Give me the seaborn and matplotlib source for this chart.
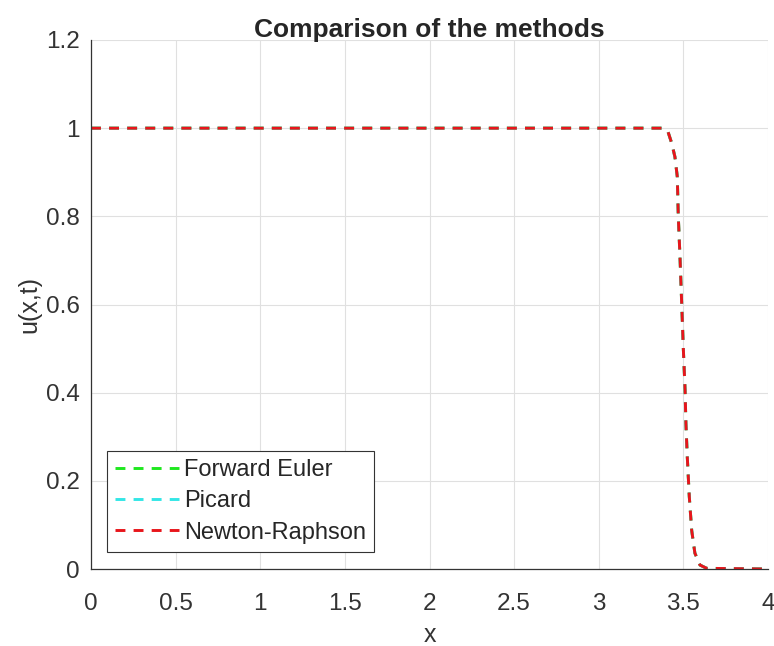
import pandas as pd
import seaborn as sns
import matplotlib
matplotlib.use('Agg')
import matplotlib.pyplot as plt

# values (front of the solution at the final time)
x_vals = [0.0, 3.38, 3.409, 3.431, 3.45, 3.464, 3.47, 3.48, 3.49, 3.50, 3.51,
          3.515, 3.523, 3.535, 3.549, 3.568, 3.598, 3.638, 4.0]
u_vals = [1.0, 1.0, 0.992, 0.966, 0.935, 0.89, 0.80, 0.708, 0.603, 0.497, 0.406,
          0.33, 0.255, 0.164, 0.088, 0.036, 0.009, 0.0015, 0.0]
methods = ['Forward Euler', 'Picard', 'Newton-Raphson']
colors = ['#1fe81f', '#33e6e6', '#e8151b']
xticks = [0, 0.5, 1, 1.5, 2, 2.5, 3, 3.5, 4]
xticklabels = ['0', '0.5', '1', '1.5', '2', '2.5', '3', '3.5', '4']
yticks = [0, 0.2, 0.4, 0.6, 0.8, 1, 1.2]
yticklabels = ['0', '0.2', '0.4', '0.6', '0.8', '1', '1.2']

sns.set_style('white')
plt.rcParams['font.family'] = ['Liberation Sans', 'DejaVu Sans']

fig = plt.figure(figsize=(7.74, 6.46), dpi=100)
ax = fig.add_axes([91 / 774, 1 - 569 / 646, 677 / 774, 529 / 646])

df = pd.DataFrame({'x': x_vals, 'u': u_vals})
for m, c in zip(methods, colors):
    sns.lineplot(data=df, x='x', y='u', ax=ax, color=c, linewidth=2.1, label=m)
for line in ax.get_lines():
    line.set_dashes([3.4, 2.8])

ax.set_xlim(0, 4)
ax.set_ylim(0, 1.2)
ax.set_xticks(xticks)
ax.set_xticklabels(xticklabels)
ax.set_yticks(yticks)
ax.set_yticklabels(yticklabels)
ax.tick_params(direction='in', length=5, width=0.8, labelsize=17.5,
               colors='#333333')
ax.tick_params(axis='x', pad=17)
ax.tick_params(axis='y', pad=8)
ax.grid(True, color='#e0e0e0', linewidth=0.8)
for s in ['top', 'right']:
    ax.spines[s].set_visible(False)
for s in ['left', 'bottom']:
    ax.spines[s].set_color('#333333')
    ax.spines[s].set_linewidth(0.9)

ax.set_xlabel('x', fontsize=18, color='#333333', labelpad=6)
ax.set_ylabel('u(x,t)', fontsize=18, color='#333333', labelpad=3)
ax.set_title('Comparison of the methods', fontsize=19, fontweight='bold', pad=2)

leg = ax.legend(loc='lower left', bbox_to_anchor=(16 / 677, 17 / 529),
                borderaxespad=0, fancybox=False, framealpha=1,
                edgecolor='#333333', fontsize=17, handlelength=2.7,
                handletextpad=0.2, labelspacing=0.4, borderpad=0.35)
leg.get_frame().set_linewidth(0.8)
for h in leg.get_lines():
    h.set_dashes([3.4, 2.8])

fig.savefig('out.png', dpi=100)
